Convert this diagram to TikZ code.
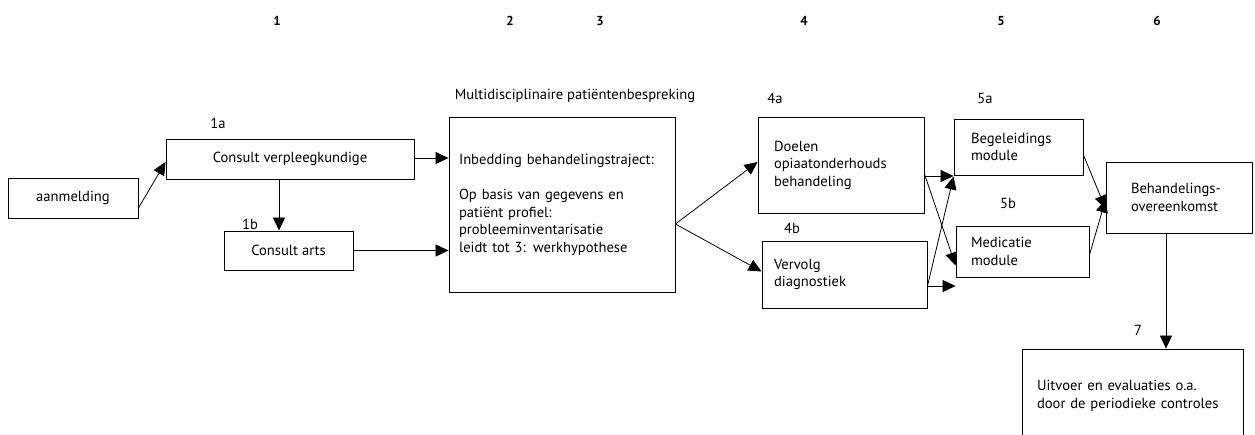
\documentclass[tikz,border=0pt]{standalone}
\usepackage{fontspec}
\setmainfont{PT Sans}
\usetikzlibrary{arrows.meta, positioning}

\newcommand\boxfont{\fontsize{14.6}{17.5}\selectfont\hyphenpenalty=10000 \exhyphenpenalty=10000 }

\tikzset{
    box/.style={draw, rectangle, line width=0.9pt, font=\boxfont, inner ysep=0pt},
    lbox/.style={box, align=left, text width=#1},
    tag/.style={font=\boxfont, inner sep=0pt},
    colnum/.style={font=\fontsize{13}{14}\selectfont\bfseries, inner sep=0pt},
    arr/.style={-{Triangle[length=13pt, width=12pt]}, line width=0.8pt}
}

\begin{document}
\begin{tikzpicture}[x=1pt, y=-1pt]
    \useasboundingbox (0,0) rectangle (1255,434);

    % kolomnummers
    \foreach \x/\n in {277/1, 510/2, 600/3, 804/4, 1001/5, 1157/6}
        \node[colnum] (col\n) at (\x,21) {\n};

    % fase 1
    \node[box, minimum width=130pt, minimum height=40pt] (aanm) at (73,198) {aanmelding};
    \node[box, minimum width=248pt, minimum height=40pt] (cverpl) at (290,159) {Consult verpleegkundige};
    \node[box, minimum width=129pt, minimum height=39pt] (carts) at (288.5,250.5) {Consult arts};
    \node[tag] (t1a) at (218,123) {1a};
    \node[tag] (t1b) at (250,224) {1b};

    % fase 2 en 3
    \node[lbox=206pt, inner xsep=10pt, minimum height=175pt] (mdo) at (562,204.5)
        {Inbedding behandelingstraject:\\[18pt]
         Op basis van gegevens en\\ patiënt profiel:\\ probleeminventarisatie\\ leidt tot 3: werkhypothese};
    \node[tag] (tmdo) at (575,96) {Multidisciplinaire patiëntenbespreking};

    % fase 4
    \node[lbox=134pt, inner xsep=16pt, minimum height=96pt] (doelen) at (841,165)
        {Doelen\\ opiaatonderhouds\\ behandeling};
    \node[lbox=141pt, inner xsep=12pt, minimum height=67pt] (vervolg) at (844.5,274.5)
        {Vervolg\\ diagnostiek};
    \node[tag] (t4a) at (775,98) {4a};
    \node[tag] (t4b) at (792,228) {4b};

    % fase 5
    \node[lbox=95pt, inner xsep=17pt, minimum height=56pt] (begel) at (1018.5,147)
        {Begeleidings\\ module};
    \node[lbox=103pt, inner xsep=15pt, minimum height=51pt] (medic) at (1022.5,251.5)
        {Medicatie\\ module};
    \node[tag] (t5a) at (985,98) {5a};
    \node[tag] (t5b) at (1008,203) {5b};

    % fase 6 en 7
    \node[lbox=96pt, inner xsep=25pt, minimum height=71pt] (overeen) at (1179,197.5)
        {Behandelings-\\ overeenkomst};
    \node[lbox=191pt, inner xsep=15pt, minimum height=94pt] (uitvoer) at (1132.5,396)
        {Uitvoer en evaluaties o.a.\\ door de periodieke controles};
    \node[tag] (t7) at (1138,330) {7};

    % pijlen
    \draw[arr] ([yshift=-10pt]aanm.east) -- ([yshift=-3pt]cverpl.west);
    \draw[arr] ([xshift=-11pt]cverpl.south) -- ([xshift=-11pt]cverpl.south |- carts.north);
    \draw[arr] ([yshift=1pt]cverpl.east) -- ([yshift=1pt]cverpl.east -| mdo.west);
    \draw[arr] (carts.east) -- (carts.east -| mdo.west);
    \draw[arr] ([yshift=-19.5pt]mdo.east) -- ([yshift=3pt]doelen.west);
    \draw[arr] ([yshift=-19.5pt]mdo.east) -- ([yshift=3pt]vervolg.west);
    \draw[arr] ([yshift=-11pt]doelen.east) -- ([yshift=-11pt]doelen.east -| begel.west);
    \draw[arr] ([yshift=-9pt]doelen.east) -- ([yshift=-14pt]medic.west);
    \draw[arr] ([yshift=-11.5pt]vervolg.east) -- ([yshift=-1pt]begel.south west);
    \draw[arr] ([yshift=-11.5pt]vervolg.east) -- ([yshift=-11.5pt]vervolg.east -| medic.west);
    \draw[arr] ([yshift=-8pt]begel.east) -- ([yshift=-11pt]overeen.west);
    \draw[arr] ([yshift=-3.5pt]medic.east) -- ([yshift=-2pt]overeen.west);
    \draw[arr] ([xshift=-13pt]overeen.south) -- ([xshift=-13pt]overeen.south |- uitvoer.north);
\end{tikzpicture}
\end{document}
